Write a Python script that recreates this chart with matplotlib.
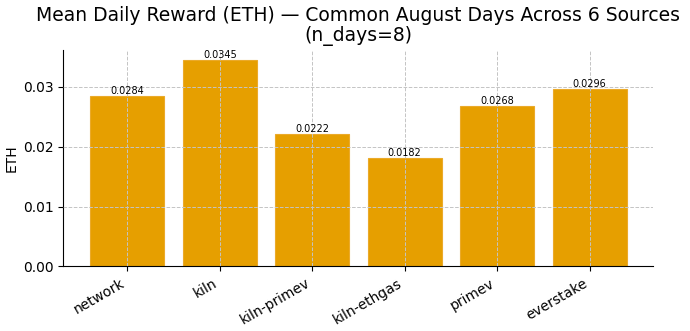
import matplotlib
matplotlib.use("Agg")
import matplotlib.pyplot as plt

# --- DATA ---
sources = ["network", "kiln", "kiln-primev", "kiln-ethgas", "primev", "everstake"]
mean_reward = [0.0284, 0.0345, 0.0222, 0.0182, 0.0268, 0.0296]
n_days = 8

# --- PLOT ---
fig, ax = plt.subplots(figsize=(6.9, 3.31), dpi=100)

bars = ax.bar(sources, mean_reward, width=0.8, color="#E69F00",
              edgecolor="#EBAA2A", linewidth=0.8, zorder=2)
for b, v in zip(bars, mean_reward):
    ax.text(b.get_x() + b.get_width() / 2, v, f"{v:.4f}",
            ha="center", va="bottom", fontsize=7, zorder=4)

ax.set_title(f"Mean Daily Reward (ETH) — Common August Days Across 6 Sources\n(n_days={n_days})",
             fontsize=13.5, linespacing=1.1)
ax.set_ylabel("ETH", fontsize=10, labelpad=3)
ax.set_yticks([0.0, 0.01, 0.02, 0.03])
ax.tick_params(axis="both", labelsize=10)
plt.setp(ax.get_xticklabels(), rotation=30, ha="right")
ax.grid(True, linestyle="--", color="#c4c4c4", linewidth=0.7, zorder=3)
ax.set_axisbelow(False)
ax.spines["top"].set_visible(False)
ax.spines["right"].set_visible(False)

fig.subplots_adjust(left=0.092, right=0.947, top=0.85, bottom=0.195)
fig.savefig("out.png", dpi=100)
